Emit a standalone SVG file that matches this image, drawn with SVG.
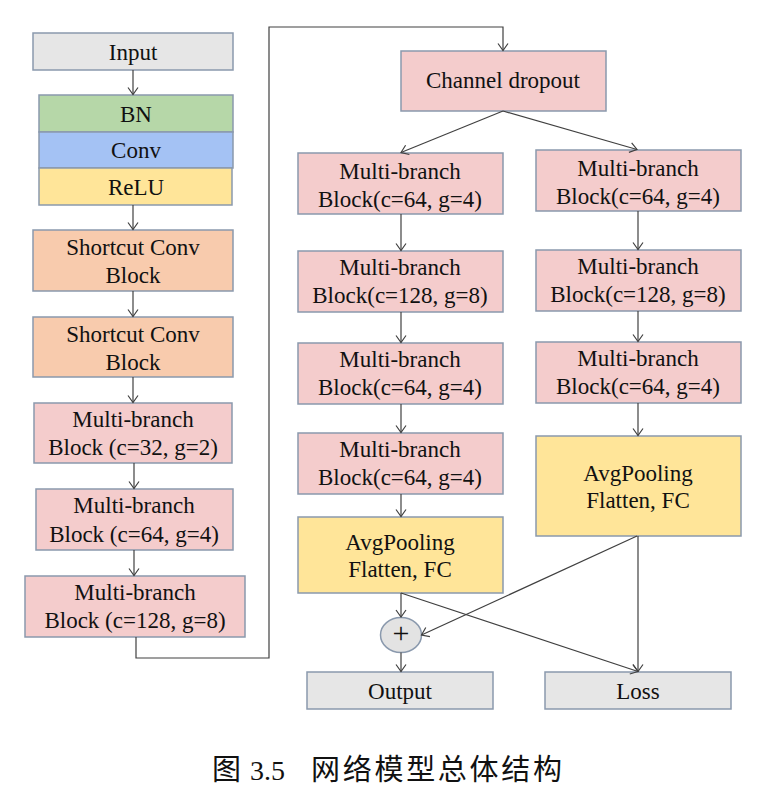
<svg xmlns="http://www.w3.org/2000/svg" width="775" height="797" viewBox="0 0 775 797" font-family="'Liberation Serif', 'DejaVu Serif', serif">
<defs>
<marker id="ah" markerUnits="userSpaceOnUse" markerWidth="12" markerHeight="12" viewBox="-8 -6 10 12" refX="0" refY="0" orient="auto">
<path d="M-7,-5 L0,0 L-7,5" fill="none" stroke="#404040" stroke-width="1.2"/>
</marker>
</defs>
<style>
.b{stroke:#8a99ad;stroke-width:1.5}
.gray{fill:#e6e6e6}
.pink{fill:#f4cccc}
.orange{fill:#f8cbad}
.green{fill:#b6d7a8}
.blue{fill:#a4c2f4}
.yellow{fill:#ffe599}
text{font-size:23px;fill:#111;text-anchor:middle}
.c line,.c polyline{stroke:#404040;stroke-width:1.2;fill:none;marker-end:url(#ah)}
.cap{font-size:29px;text-anchor:start}
</style>
<rect width="775" height="797" fill="#fff"/>

<g id="input"><rect class="b gray" x="33" y="33" width="200" height="37"/><text x="133" y="60">Input</text></g>
<g id="bn"><rect class="b green" x="39" y="95" width="194" height="37"/><text x="136" y="122">BN</text></g>
<g id="conv"><rect class="b blue" x="39" y="132" width="194" height="36"/><text x="136" y="158">Conv</text></g>
<g id="relu"><rect class="b yellow" x="39" y="168" width="193" height="37"/><text x="136" y="195">ReLU</text></g>
<g id="sc1"><rect class="b orange" x="33" y="230" width="200" height="61"/><text x="133" y="255">Shortcut Conv</text><text x="133" y="283">Block</text></g>
<g id="sc2"><rect class="b orange" x="33" y="317" width="200" height="60"/><text x="133" y="342">Shortcut Conv</text><text x="133" y="370">Block</text></g>
<g id="mb32"><rect class="b pink" x="34" y="403" width="198" height="60"/><text x="133" y="427">Multi-branch</text><text x="133" y="455">Block (c=32, g=2)</text></g>
<g id="mb64a"><rect class="b pink" x="36" y="489" width="197" height="61"/><text x="134" y="513">Multi-branch</text><text x="134" y="542">Block (c=64, g=4)</text></g>
<g id="mb128a"><rect class="b pink" x="25" y="576" width="220" height="61"/><text x="135" y="600">Multi-branch</text><text x="135" y="628">Block (c=128, g=8)</text></g>

<g id="dropout"><rect class="b pink" x="401" y="51" width="205" height="60"/><text x="503" y="88">Channel dropout</text></g>

<g id="l1"><rect class="b pink" x="298" y="153" width="205" height="61"/><text x="400" y="179">Multi-branch</text><text x="400" y="207">Block(c=64, g=4)</text></g>
<g id="l2"><rect class="b pink" x="298" y="251" width="205" height="61"/><text x="400" y="275">Multi-branch</text><text x="400" y="303">Block(c=128, g=8)</text></g>
<g id="l3"><rect class="b pink" x="298" y="343" width="205" height="61"/><text x="400" y="367">Multi-branch</text><text x="400" y="395">Block(c=64, g=4)</text></g>
<g id="l4"><rect class="b pink" x="298" y="433" width="205" height="61"/><text x="400" y="457">Multi-branch</text><text x="400" y="485">Block(c=64, g=4)</text></g>
<g id="lpool"><rect class="b yellow" x="298" y="517" width="205" height="76"/><text x="400" y="550">AvgPooling</text><text x="400" y="577">Flatten, FC</text></g>

<g id="r1"><rect class="b pink" x="536" y="150" width="205" height="61"/><text x="638" y="176">Multi-branch</text><text x="638" y="204">Block(c=64, g=4)</text></g>
<g id="r2"><rect class="b pink" x="536" y="250" width="205" height="61"/><text x="638" y="274">Multi-branch</text><text x="638" y="302">Block(c=128, g=8)</text></g>
<g id="r3"><rect class="b pink" x="536" y="342" width="205" height="61"/><text x="638" y="366">Multi-branch</text><text x="638" y="394">Block(c=64, g=4)</text></g>
<g id="rpool"><rect class="b yellow" x="536" y="436" width="205" height="100"/><text x="638" y="481">AvgPooling</text><text x="638" y="508">Flatten, FC</text></g>

<g id="plus"><ellipse class="b" cx="401" cy="635" rx="20.5" ry="17.5" fill="#e3e3e3"/><text x="401" y="643" style="font-size:30px">+</text></g>
<g id="output"><rect class="b gray" x="307" y="672" width="186" height="37"/><text x="400" y="699">Output</text></g>
<g id="loss"><rect class="b gray" x="545" y="672" width="186" height="37"/><text x="638" y="699">Loss</text></g>

<g id="connectors" class="c">
<line x1="133" y1="70" x2="133" y2="94.5"/>
<line x1="133" y1="205" x2="133" y2="229.5"/>
<line x1="133" y1="291" x2="133" y2="316.5"/>
<line x1="133" y1="377" x2="133" y2="402.5"/>
<line x1="134" y1="463" x2="134" y2="488.5"/>
<line x1="134" y1="550" x2="134" y2="575.5"/>
<polyline points="136,637 136,658 269,658 269,27 503,27 503,50.5"/>
<line x1="503" y1="111" x2="401" y2="152.5"/>
<line x1="503" y1="111" x2="637" y2="149.5"/>
<line x1="401" y1="214" x2="401" y2="250.5"/>
<line x1="401" y1="312" x2="401" y2="342.5"/>
<line x1="401" y1="404" x2="401" y2="432.5"/>
<line x1="401" y1="494" x2="401" y2="516.5"/>
<line x1="401" y1="593" x2="401" y2="617"/>
<line x1="401" y1="652.5" x2="401" y2="671.5"/>
<line x1="638" y1="211" x2="638" y2="249.5"/>
<line x1="638" y1="311" x2="638" y2="341.5"/>
<line x1="638" y1="403" x2="638" y2="435.5"/>
<line x1="638" y1="536" x2="638" y2="671.5"/>
<line x1="401" y1="593" x2="638" y2="671.5"/>
<line x1="637" y1="536" x2="421.5" y2="635"/>
</g>

<text class="cap" y="780" font-family="'Liberation Serif', 'Noto Sans CJK SC', serif"><tspan x="212">图</tspan><tspan x="250" style="font-size:28px">3.5</tspan><tspan x="311" textLength="251" lengthAdjust="spacing">网络模型总体结构</tspan></text>
</svg>
